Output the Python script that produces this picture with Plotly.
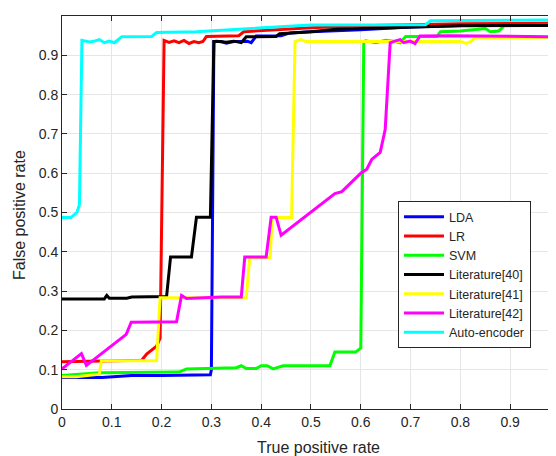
import plotly.graph_objects as go

# ---------------- data ----------------
lda_x = [0, 0.08, 0.14, 0.2, 0.298, 0.3, 0.305, 0.32, 0.33, 0.345, 0.36, 0.372, 0.38, 0.387, 0.39, 0.44, 0.458, 0.5, 0.6, 0.7, 0.8, 0.99]
lda_y = [0.08, 0.08, 0.085, 0.085, 0.087, 0.1, 0.935, 0.935, 0.931, 0.935, 0.935, 0.936, 0.932, 0.943, 0.949, 0.95, 0.957, 0.96, 0.965, 0.972, 0.976, 0.977]

lr_x = [0, 0.1, 0.16, 0.17, 0.18, 0.19, 0.197, 0.205, 0.215, 0.225, 0.235, 0.245, 0.255, 0.265, 0.275, 0.283, 0.29, 0.355, 0.365, 0.4, 0.5, 0.6, 0.7, 0.8, 0.99]
lr_y = [0.12, 0.122, 0.124, 0.14, 0.15, 0.16, 0.18, 0.938, 0.933, 0.937, 0.932, 0.938, 0.93, 0.935, 0.932, 0.935, 0.948, 0.95, 0.96, 0.963, 0.97, 0.975, 0.978, 0.98, 0.982]

svm_x = [0, 0.075, 0.235, 0.25, 0.35, 0.36, 0.37, 0.39, 0.4, 0.412, 0.424, 0.444, 0.538, 0.548, 0.59, 0.6, 0.606, 0.61, 0.63, 0.65, 0.665, 0.679, 0.69, 0.753, 0.76, 0.8, 0.85, 0.86, 0.877, 0.888, 0.99]
svm_y = [0.085, 0.092, 0.094, 0.102, 0.105, 0.11, 0.103, 0.103, 0.11, 0.11, 0.102, 0.11, 0.11, 0.145, 0.145, 0.155, 0.935, 0.937, 0.932, 0.938, 0.936, 0.932, 0.948, 0.948, 0.96, 0.962, 0.968, 0.96, 0.962, 0.975, 0.977]

lit40_x = [0, 0.085, 0.09, 0.095, 0.13, 0.14, 0.21, 0.218, 0.26, 0.27, 0.298, 0.305, 0.31, 0.33, 0.345, 0.36, 0.37, 0.43, 0.437, 0.5, 0.55, 0.6, 0.7, 0.8, 0.99]
lit40_y = [0.28, 0.28, 0.289, 0.282, 0.282, 0.285, 0.286, 0.387, 0.387, 0.488, 0.488, 0.935, 0.936, 0.933, 0.936, 0.932, 0.947, 0.948, 0.955, 0.96, 0.966, 0.968, 0.972, 0.975, 0.976]

lit41_x = [0, 0.029, 0.069, 0.075, 0.079, 0.19, 0.197, 0.37, 0.377, 0.418, 0.422, 0.461, 0.468, 0.475, 0.48, 0.49, 0.6, 0.7, 0.8, 0.812, 0.822, 0.83, 0.99]
lit41_y = [0.082, 0.082, 0.088, 0.088, 0.123, 0.123, 0.283, 0.283, 0.385, 0.385, 0.487, 0.487, 0.935, 0.938, 0.94, 0.935, 0.935, 0.935, 0.935, 0.93, 0.936, 0.945, 0.945]

lit42_x = [0, 0.039, 0.049, 0.129, 0.139, 0.23, 0.24, 0.25, 0.285, 0.32, 0.36, 0.367, 0.41, 0.42, 0.43, 0.44, 0.548, 0.562, 0.6, 0.612, 0.622, 0.639, 0.649, 0.659, 0.668, 0.679, 0.686, 0.699, 0.709, 0.719, 0.78, 0.99]
lit42_y = [0.102, 0.141, 0.111, 0.19, 0.221, 0.222, 0.289, 0.281, 0.283, 0.285, 0.285, 0.387, 0.387, 0.488, 0.488, 0.442, 0.548, 0.553, 0.6, 0.61, 0.635, 0.653, 0.711, 0.932, 0.936, 0.94, 0.932, 0.936, 0.93, 0.949, 0.95, 0.947]

ae_x = [0, 0.018, 0.03, 0.035, 0.04, 0.055, 0.065, 0.075, 0.085, 0.095, 0.105, 0.12, 0.18, 0.19, 0.27, 0.34, 0.42, 0.5, 0.73, 0.74, 0.99]
ae_y = [0.487, 0.487, 0.5, 0.52, 0.938, 0.934, 0.936, 0.94, 0.932, 0.936, 0.932, 0.947, 0.948, 0.958, 0.96, 0.965, 0.97, 0.977, 0.978, 0.988, 0.99]

names = ["LDA", "LR", "SVM", "Literature[40]", "Literature[41]", "Literature[42]", "Auto-encoder"]
colors = ["#0000ff", "#ff0000", "#00ff00", "#000000", "#ffff00", "#ff00ff", "#00ffff"]
series_x = [lda_x, lr_x, svm_x, lit40_x, lit41_x, lit42_x, ae_x]
series_y = [lda_y, lr_y, svm_y, lit40_y, lit41_y, lit42_y, ae_y]

x_ticks = [0, 0.1, 0.2, 0.3, 0.4, 0.5, 0.6, 0.7, 0.8, 0.9]
x_tick_text = ["0", "0.1", "0.2", "0.3", "0.4", "0.5", "0.6", "0.7", "0.8", "0.9"]
y_ticks = [0, 0.1, 0.2, 0.3, 0.4, 0.5, 0.6, 0.7, 0.8, 0.9, 1]
y_tick_text = ["0", "0.1", "0.2", "0.3", "0.4", "0.5", "0.6", "0.7", "0.8", "0.9", "1"]

# ---------------- figure ----------------
fig = go.Figure()
for xs, ys, n, c in zip(series_x, series_y, names, colors):
    fig.add_trace(go.Scatter(x=xs, y=ys, mode="lines", name=n,
                             line=dict(color=c, width=3)))

font_family = "Liberation Sans, Arial, sans-serif"
axis_common = dict(
    showline=True, linecolor="#262626", linewidth=1, mirror="ticks",
    ticks="inside", ticklen=5, tickcolor="#262626",
    showgrid=True, gridcolor="#e6e6e6", gridwidth=1,
    zeroline=False, automargin=False,
    tickfont=dict(family=font_family, size=14, color="#262626"),
)

# the page body adds an 8px offset; the figure is sized to compensate
W, H = 548, 448
ML, MR, MT, MB = 54, 1, 8, 47

fig.update_layout(
    width=W, height=H,
    margin=dict(l=ML, r=MR, t=MT, b=MB),
    paper_bgcolor="white", plot_bgcolor="white",
    font=dict(family=font_family, color="#262626"),
    xaxis=dict(range=[0, 0.99], tickvals=x_ticks, ticktext=x_tick_text, **axis_common),
    yaxis=dict(range=[0, 1], tickvals=y_ticks, ticktext=y_tick_text, **axis_common),
    legend=dict(x=0.6815, y=0.529, xanchor="left", yanchor="top",
                bgcolor="white", bordercolor="#262626", borderwidth=1,
                font=dict(family=font_family, size=12.5, color="#262626"),
                tracegroupgap=0, itemwidth=40),
    showlegend=True,
)

pw = W - ML - MR
ph = H - MT - MB
fig.add_annotation(text="True positive rate", xref="paper", yref="paper",
                   x=(310 - ML) / pw, y=-(439 - (H - MB)) / ph,
                   xanchor="center", yanchor="middle", showarrow=False,
                   font=dict(family=font_family, size=16, color="#262626"))
fig.add_annotation(text="False positive rate", xref="paper", yref="paper",
                   x=-(ML - 12) / pw, y=((H - MB) - 207) / ph, textangle=-90,
                   xanchor="center", yanchor="middle", showarrow=False,
                   font=dict(family=font_family, size=16, color="#262626"))

fig.write_html("out.html")
